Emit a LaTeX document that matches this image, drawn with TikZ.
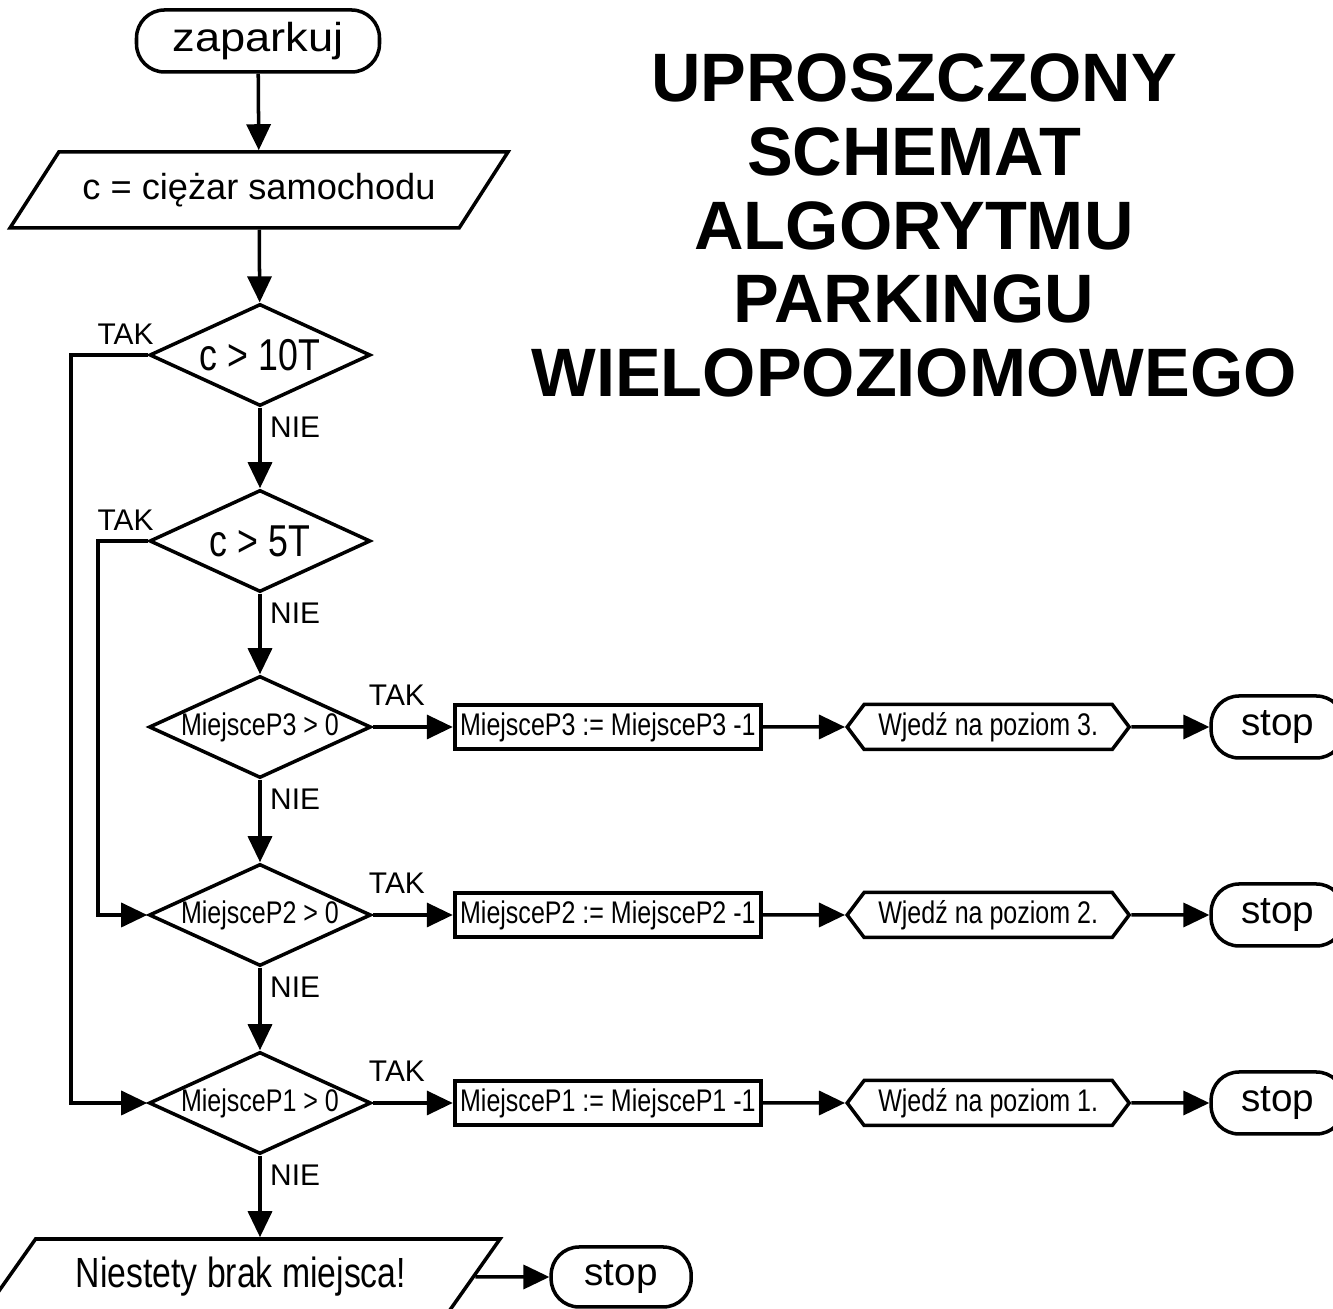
\documentclass[tikz,border=0pt]{standalone}
\usepackage{fontspec}
\setmainfont{Liberation Sans}
\newfontfamily\narrowsf[FakeStretch=0.8]{Liberation Sans}
\newfontfamily\widesf[FakeStretch=1.12]{Liberation Sans}
\usetikzlibrary{shapes.geometric, shapes.symbols, arrows.meta, positioning}

\begin{document}
\begin{tikzpicture}[
      terminal/.style={rectangle, rounded corners=0.28cm, draw, line width=1pt,
                       font=\fontsize{11}{13}\selectfont,
                       minimum height=0.62cm, inner xsep=0.3cm},
      io/.style={trapezium, trapezium left angle=49.5, trapezium right angle=130.5,
                 trapezium stretches body, draw, line width=1pt, minimum height=0.76cm},
      decision/.style={diamond, draw, line width=1pt, aspect=2.2, inner sep=0pt,
                       minimum width=2.21cm, minimum height=1.02cm},
      bigtxt/.style={font=\narrowsf\fontsize{12.7}{15}\selectfont},
      smalltxt/.style={font=\narrowsf\fontsize{8.9}{11}\selectfont},
      process/.style={rectangle, draw, line width=1.2pt, minimum width=3.06cm,
                      minimum height=0.44cm, inner sep=0pt, smalltxt},
      gobox/.style={signal, signal to=west and east, signal pointer angle=106, draw,
                    line width=1pt, minimum width=2.82cm, minimum height=0.45cm,
                    inner sep=0pt, smalltxt},
      lbl/.style={inner sep=1pt, font=\fontsize{8.5}{10}\selectfont},
      arr/.style={-{Triangle[length=0.26cm,width=0.24cm]}, line width=1pt},
      node distance=0.8cm
    ]
    \useasboundingbox (0,0) rectangle (13.33,-13.09);

    % main column
    \node[terminal, minimum width=2.43cm, font=\widesf\fontsize{11.5}{13}\selectfont] (start) at (2.58,-0.41) {zaparkuj};
    \node[io, minimum width=4.98cm, font=\fontsize{10.3}{12}\selectfont] (input) at (2.59,-1.90) {c = ciężar samochodu};
    \node[decision, bigtxt] (dec1) at (2.6,-3.55) {c > 10T};
    \node[decision, bigtxt] (dec2) at (2.6,-5.41) {c > 5T};
    \node[decision, smalltxt] (dec3) at (2.6,-7.27) {MiejsceP3 > 0};
    \node[decision, smalltxt] (dec4) at (2.6,-9.15) {MiejsceP2 > 0};
    \node[decision, smalltxt] (dec5) at (2.6,-11.03) {MiejsceP1 > 0};
    \node[io, minimum width=5.18cm, font=\narrowsf\fontsize{12}{14}\selectfont] (out) at (2.41,-12.77) {Niestety brak miejsca!};
    \node[terminal, minimum width=1.4cm, minimum height=0.6cm, right=0.74cm of out] (stop0) {stop};

    % rows for the levels
    \node[process, right=0.8cm of dec3] (upd3) {MiejsceP3 := MiejsceP3 -1};
    \node[gobox, right=0.82cm of upd3] (go3) {Wjedź na poziom 3.};
    \node[terminal, right=0.78cm of go3] (stop3) {stop};
    \node[process, right=0.8cm of dec4] (upd2) {MiejsceP2 := MiejsceP2 -1};
    \node[gobox, right=0.82cm of upd2] (go2) {Wjedź na poziom 2.};
    \node[terminal, right=0.78cm of go2] (stop2) {stop};
    \node[process, right=0.8cm of dec5] (upd1) {MiejsceP1 := MiejsceP1 -1};
    \node[gobox, right=0.82cm of upd1] (go1) {Wjedź na poziom 1.};
    \node[terminal, right=0.78cm of go1] (stop1) {stop};

    % title
    \node[font=\bfseries\fontsize{19.5}{21}\selectfont, align=center] (title) at (9.14,-2.255)
      {UPROSZCZONY\\SCHEMAT\\ALGORYTMU\\PARKINGU\\WIELOPOZIOMOWEGO};

    % labels
    \node[lbl, above left=0.06cm and -0.1cm of dec1.west] (tak1) {TAK};
    \node[lbl, above left=0.06cm and -0.1cm of dec2.west] (tak2) {TAK};
    \node[lbl, above right=0.17cm and -0.08cm of dec3.east] (tak3) {TAK};
    \node[lbl, above right=0.17cm and -0.08cm of dec4.east] (tak4) {TAK};
    \node[lbl, above right=0.17cm and -0.08cm of dec5.east] (tak5) {TAK};
    \node[lbl, below right=0.05cm and 0.06cm of dec1.south] (nie1) {NIE};
    \node[lbl, below right=0.05cm and 0.06cm of dec2.south] (nie2) {NIE};
    \node[lbl, below right=0.05cm and 0.06cm of dec3.south] (nie3) {NIE};
    \node[lbl, below right=0.05cm and 0.06cm of dec4.south] (nie4) {NIE};
    \node[lbl, below right=0.05cm and 0.06cm of dec5.south] (nie5) {NIE};

    % connectors
    \draw[arr] (start) -- (input);
    \draw[arr] (input) -- (dec1);
    \draw[arr] (dec1) -- (dec2);
    \draw[arr] (dec2) -- (dec3);
    \draw[arr] (dec3) -- (dec4);
    \draw[arr] (dec4) -- (dec5);
    \draw[arr] (dec5) -- (dec5 |- out.north);
    \draw[arr] (out) -- (stop0);
    \draw[arr] (dec1.west) -- ++(-0.77,0) |- (dec5.west);
    \draw[arr] (dec2.west) -- ++(-0.5,0) |- (dec4.west);

    \draw[arr] (dec3) -- (upd3);
    \draw[arr] (upd3) -- (go3);
    \draw[arr] (go3) -- (stop3);
    \draw[arr] (dec4) -- (upd2);
    \draw[arr] (upd2) -- (go2);
    \draw[arr] (go2) -- (stop2);
    \draw[arr] (dec5) -- (upd1);
    \draw[arr] (upd1) -- (go1);
    \draw[arr] (go1) -- (stop1);
  \end{tikzpicture}
\end{document}
